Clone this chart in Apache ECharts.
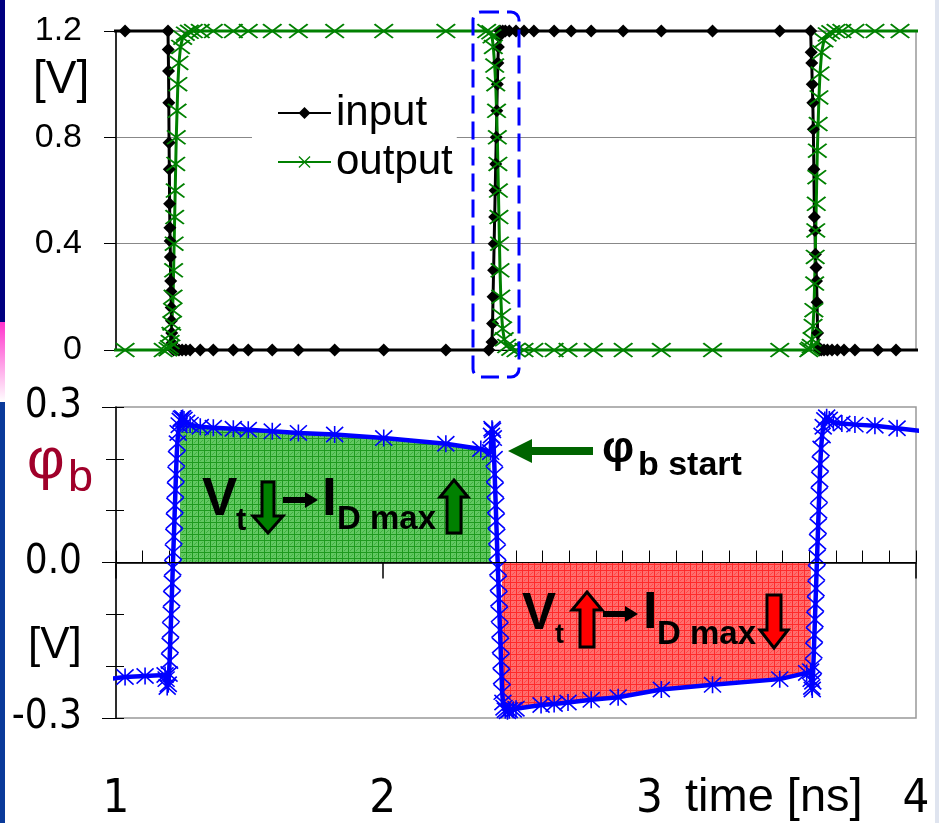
<!DOCTYPE html>
<html>
<head>
<meta charset="utf-8">
<script src="https://cdn.jsdelivr.net/npm/echarts@6/dist/echarts.min.js"></script>
<style>
  html, body { margin: 0; padding: 0; background: #fff; }
  #chart { width: 939px; height: 823px; }
</style>
</head>
<body>
<div id="chart"></div>
<script>
  // input voltage (black diamonds), time in ns
  const inT = [
    0.959, 1.034, 1.195,
    1.196, 1.197, 1.198, 1.199, 1.200, 1.201, 1.202, 1.203, 1.204, 1.205, 1.206, 1.207, 1.208, 1.209, 1.210, 1.212, 1.216,
    1.225, 1.236, 1.248, 1.262, 1.278, 1.316, 1.365, 1.440, 1.496, 1.586, 1.684, 1.820, 2.004, 2.237, 2.398,
    2.410, 2.412, 2.414, 2.416, 2.418, 2.420, 2.422, 2.424, 2.426, 2.428, 2.430, 2.432, 2.434, 2.437, 2.440,
    2.450, 2.460, 2.475, 2.500, 2.530, 2.567, 2.643, 2.707, 2.782, 2.902, 3.045, 3.237, 3.489, 3.605,
    3.607, 3.609, 3.611, 3.613, 3.615, 3.617, 3.619, 3.621, 3.623, 3.625, 3.627, 3.629, 3.631, 3.634, 3.638,
    3.645, 3.655, 3.668, 3.685, 3.705, 3.730, 3.771, 3.857, 3.925, 4.053
  ];
  const inV = [
    1.2, 1.2, 1.2,
    1.13, 1.05, 0.93, 0.78, 0.68, 0.55, 0.46, 0.41, 0.35, 0.26, 0.22, 0.16, 0.11, 0.064, 0.026, 0.005, 0,
    0, 0, 0, 0, 0, 0, 0, 0, 0, 0, 0, 0, 0, 0, 0,
    0.03, 0.10, 0.20, 0.30, 0.40, 0.50, 0.60, 0.70, 0.80, 0.90, 1.00, 1.08, 1.14, 1.18, 1.2,
    1.2, 1.2, 1.2, 1.2, 1.2, 1.2, 1.2, 1.2, 1.2, 1.2, 1.2, 1.2, 1.2, 1.2,
    1.12, 1.08, 1.00, 0.93, 0.83, 0.68, 0.50, 0.45, 0.36, 0.31, 0.26, 0.18, 0.064, 0.01, 0,
    0, 0, 0, 0, 0, 0, 0, 0, 0, 0
  ];

  // output voltage (green crosses)
  const outT = [
    0.959, 1.034, 1.177,
    1.195, 1.200, 1.203, 1.206, 1.209, 1.212, 1.214, 1.216, 1.218, 1.220, 1.222, 1.224, 1.226, 1.229, 1.232, 1.236, 1.242, 1.250, 1.260, 1.275, 1.290,
    1.316, 1.365, 1.440, 1.496, 1.586, 1.684, 1.820, 2.004, 2.237, 2.390,
    2.405, 2.410, 2.415, 2.420, 2.424, 2.427, 2.430, 2.432, 2.434, 2.436, 2.438, 2.440, 2.443, 2.446, 2.450, 2.456, 2.465, 2.480, 2.500,
    2.530, 2.567, 2.643, 2.695, 2.790, 2.902, 3.045, 3.237, 3.489, 3.598,
    3.603, 3.607, 3.610, 3.614, 3.617, 3.620, 3.622, 3.624, 3.626, 3.628, 3.630, 3.633, 3.636, 3.640, 3.646, 3.655, 3.667, 3.680, 3.700,
    3.722, 3.771, 3.846, 3.940, 4.053
  ];
  const outV = [
    0, 0, 0,
    0.003, 0.01, 0.03, 0.06, 0.10, 0.15, 0.20, 0.30, 0.40, 0.50, 0.60, 0.70, 0.80, 0.90, 1.00, 1.08, 1.14, 1.175, 1.19, 1.197, 1.2,
    1.2, 1.2, 1.2, 1.2, 1.2, 1.2, 1.2, 1.2, 1.2, 1.2,
    1.195, 1.18, 1.14, 1.07, 1.00, 0.90, 0.80, 0.70, 0.60, 0.50, 0.40, 0.30, 0.20, 0.13, 0.08, 0.04, 0.015, 0.005, 0,
    0, 0, 0, 0, 0, 0, 0, 0, 0, 0,
    0.005, 0.015, 0.04, 0.09, 0.15, 0.25, 0.35, 0.45, 0.55, 0.65, 0.75, 0.85, 0.95, 1.04, 1.12, 1.165, 1.187, 1.195, 1.2,
    1.2, 1.2, 1.2, 1.2, 1.2
  ];

  // body potential phi_b (blue asterisks)
  const phiT = [
    0.970, 1.034, 1.109, 1.184,
    1.188, 1.192, 1.196, 1.199, 1.201, 1.203, 1.205, 1.207, 1.209, 1.211, 1.213, 1.215, 1.217, 1.219, 1.221, 1.223, 1.225, 1.227, 1.230, 1.233, 1.237, 1.241, 1.245, 1.250, 1.255, 1.265, 1.278,
    1.316, 1.365, 1.440, 1.496, 1.586, 1.684, 1.820, 2.004, 2.237, 2.368, 2.405,
    2.408, 2.410, 2.412, 2.415, 2.418, 2.420, 2.422, 2.424, 2.426, 2.428, 2.430, 2.432, 2.434, 2.436, 2.438, 2.440, 2.442, 2.444, 2.446, 2.448, 2.451, 2.455, 2.460, 2.468, 2.475, 2.490, 2.500,
    2.594, 2.643, 2.695, 2.782, 2.883, 3.045, 3.237, 3.489, 3.590, 3.605,
    3.607, 3.609, 3.611, 3.613, 3.615, 3.617, 3.619, 3.621, 3.623, 3.625, 3.627, 3.629, 3.631, 3.633, 3.635, 3.637, 3.639, 3.641, 3.644, 3.648, 3.652, 3.658, 3.665, 3.675, 3.690,
    3.722, 3.771, 3.846, 3.929, 4.034
  ];
  const phiV = [
    -0.225, -0.221, -0.219, -0.217,
    -0.225, -0.24, -0.235, -0.215, -0.19, -0.16, -0.13, -0.10, -0.07, -0.04, -0.01, 0.02, 0.05, 0.08, 0.11, 0.14, 0.17, 0.20, 0.23, 0.25, 0.265, 0.274, 0.278, 0.279, 0.276, 0.27, 0.266,
    0.262, 0.260, 0.258, 0.256, 0.253, 0.250, 0.247, 0.240, 0.229, 0.219, 0.213,
    0.245, 0.258, 0.255, 0.24, 0.20, 0.17, 0.14, 0.11, 0.08, 0.05, 0.02, -0.01, -0.04, -0.07, -0.10, -0.13, -0.16, -0.19, -0.22, -0.25, -0.27, -0.28, -0.285, -0.287, -0.285, -0.284, -0.282,
    -0.275, -0.273, -0.270, -0.265, -0.260, -0.245, -0.236, -0.225, -0.213, -0.210,
    -0.225, -0.24, -0.245, -0.23, -0.20, -0.17, -0.14, -0.11, -0.08, -0.05, -0.02, 0.01, 0.04, 0.07, 0.10, 0.13, 0.16, 0.19, 0.22, 0.245, 0.262, 0.275, 0.28, 0.276, 0.27,
    0.268, 0.266, 0.264, 0.259, 0.253
  ];

  // shaded windows (ns)
  const greenWin = [1.241, 2.405];
  const redWin = [2.445, 3.605];

  const SANS = '"Liberation Sans", Arial, sans-serif';
  const NARROW = '"Liberation Sans Narrow", "Arial Narrow", "DejaVu Sans Condensed", sans-serif';

  function pts(ts, vs) {
    // first and last samples lie outside the axes and carry no marker
    return ts.map(function (t, i) {
      const item = { value: [t, vs[i]] };
      if (i === 0 || i === ts.length - 1) item.symbol = 'none';
      return item;
    });
  }
  function win(ts, vs, w) {
    const out = [];
    ts.forEach(function (t, i) { if (t >= w[0] && t <= w[1]) out.push([t, vs[i]]); });
    return out;
  }
  function hatch(base, line, dot) {
    const c = document.createElement('canvas');
    c.width = 6; c.height = 6;
    const g = c.getContext('2d');
    g.fillStyle = base; g.fillRect(0, 0, 6, 6);
    g.fillStyle = line; g.fillRect(0, 0, 6, 1); g.fillRect(0, 0, 1, 6);
    g.fillStyle = dot; g.fillRect(3, 3, 1, 1); g.fillRect(2, 4, 1, 1); g.fillRect(4, 2, 1, 1);
    return c;
  }

  const crossSym = 'path://M0,1.5L1.5,0L10,8.5L18.5,0L20,1.5L11.5,10L20,18.5L18.5,20L10,11.5L1.5,20L0,18.5L8.5,10Z';
  const starSym = 'path://M10,0L10,20M1,1L19,19M19,1L1,19';

  let chart = echarts.init(document.getElementById('chart'));

  function txt(x, y, s, size, opts) {
    opts = opts || {};
    return {
      type: 'text', x: x, y: y, z: 100,
      style: {
        text: s,
        font: (opts.bold ? 'bold ' : '') + size + 'px ' + (opts.family || SANS),
        fill: opts.color || '#000',
        align: 'left', verticalAlign: 'middle',
        textAlign: 'left', textVerticalAlign: 'middle'
      }
    };
  }
  function poly(points, fill, stroke, lw) {
    return {
      type: 'polygon', z: 100,
      shape: { points: points },
      style: { fill: fill, stroke: stroke || null, lineWidth: lw || 0, lineJoin: 'miter' }
    };
  }

  chart.setOption({
    animation: false,
    backgroundColor: '#fff',
    grid: [
      { left: 116, top: 31, width: 800, height: 319, show: true, borderColor: '#999', borderWidth: 1.5 },
      { left: 116, top: 407, width: 800, height: 315, show: true, borderColor: '#999', borderWidth: 1.5 }
    ],
    legend: {
      orient: 'vertical',
      left: 252, top: 88,
      itemWidth: 53, itemHeight: 15, itemGap: 7,
      padding: [4, 4, 4, 25],
      backgroundColor: '#fff',
      data: ['input', 'output'],
      textStyle: { fontSize: 42, fontFamily: SANS, color: '#000' }
    },
    xAxis: [
      {
        type: 'value', gridIndex: 0, min: 1, max: 4,
        axisLine: { lineStyle: { color: '#000', width: 1 } },
        axisTick: { show: false }, axisLabel: { show: false }, splitLine: { show: false }
      },
      {
        type: 'value', gridIndex: 1, position: 'bottom', min: 1, max: 4, interval: 1,
        axisLine: { lineStyle: { color: '#333', width: 2 } },
        axisTick: { length: 16, lineStyle: { color: '#000', width: 1.5 } },
        axisLabel: { fontSize: 47, fontFamily: NARROW, color: '#000', margin: 58, hideOverlap: false },
        splitLine: { show: false }
      },
      {
        type: 'value', gridIndex: 1, position: 'bottom', min: 1, max: 4, interval: 0.1,
        axisLine: { show: false },
        axisTick: { inside: true, length: 12, lineStyle: { color: '#000', width: 1 } },
        axisLabel: { show: false }, splitLine: { show: false }
      }
    ],
    yAxis: [
      {
        type: 'value', gridIndex: 0, min: 0, max: 1.2, interval: 0.4,
        axisLine: { show: true, lineStyle: { color: '#000', width: 1.5 } },
        axisTick: { show: true, length: 12, lineStyle: { color: '#000' } },
        axisLabel: {
          fontSize: 34, fontFamily: SANS, color: '#000', margin: 34,
          formatter: function (v) { return Math.abs(v) < 1e-9 ? '0' : v.toFixed(1); }
        },
        splitLine: { lineStyle: { color: '#888', width: 1 } }
      },
      {
        type: 'value', gridIndex: 1, position: 'left', min: -0.3, max: 0.3, interval: 0.3,
        axisLine: { show: true, lineStyle: { color: '#000', width: 1.5 } },
        axisTick: { show: true, length: 14, lineStyle: { color: '#000' } },
        axisLabel: {
          fontSize: 40, fontFamily: NARROW, color: '#000', margin: 34,
          formatter: function (v) { return Math.abs(v) < 1e-9 ? '0.0' : v.toFixed(1); }
        },
        splitLine: { show: false }
      },
      {
        type: 'value', gridIndex: 1, position: 'left', min: -0.3, max: 0.3, interval: 0.1,
        axisLine: { show: false },
        axisTick: { show: true, length: 10, lineStyle: { color: '#000' } },
        axisLabel: { show: false }, splitLine: { show: false }
      },
      {
        type: 'value', gridIndex: 1, position: 'left', min: -0.3, max: 0.3, interval: 0.1,
        axisLine: { show: false },
        axisTick: { show: true, inside: true, length: 8, lineStyle: { color: '#000' } },
        axisLabel: { show: false }, splitLine: { show: false }
      }
    ],
    series: [
      {
        name: 'input', type: 'line', xAxisIndex: 0, yAxisIndex: 0, clip: false,
        data: pts(inT, inV),
        symbol: 'diamond', symbolSize: 13,
        itemStyle: { color: '#000' },
        lineStyle: { color: '#000', width: 3 }
      },
      {
        name: 'output', type: 'line', xAxisIndex: 0, yAxisIndex: 0, clip: false,
        data: pts(outT, outV),
        symbol: crossSym, symbolSize: [20, 15],
        itemStyle: { color: '#008000' },
        lineStyle: { color: '#008000', width: 3 }
      },
      {
        name: 'gain', type: 'line', xAxisIndex: 1, yAxisIndex: 1, z: 1,
        data: win(phiT, phiV, greenWin),
        showSymbol: false, lineStyle: { width: 0 },
        areaStyle: { origin: 0, opacity: 1, color: { image: hatch('#62c862', '#1e9a1e', '#3fae3f'), repeat: 'repeat' } }
      },
      {
        name: 'loss', type: 'line', xAxisIndex: 1, yAxisIndex: 1, z: 1,
        data: win(phiT, phiV, redWin),
        showSymbol: false, lineStyle: { width: 0 },
        areaStyle: { origin: 0, opacity: 1, color: { image: hatch('#ff6e6e', '#ff2a2a', '#ff4848'), repeat: 'repeat' } }
      },
      {
        name: 'phi', type: 'line', xAxisIndex: 1, yAxisIndex: 1, clip: false, z: 3,
        data: pts(phiT, phiV),
        symbol: starSym, symbolSize: 17,
        itemStyle: { color: 'rgba(0,0,0,0)', borderColor: '#0000ff', borderWidth: 1.6 },
        lineStyle: { color: '#0000ff', width: 4.5 },
        markLine: {
          silent: true, symbol: ['none', 'none'], label: { show: false },
          lineStyle: { color: '#000', width: 1, type: 'solid' },
          data: [{ yAxis: 0 }]
        }
      }
    ],
    graphic: [
      // slide edge strips
      { type: 'rect', shape: { x: 0, y: 0, width: 5, height: 322 }, style: { fill: '#000080' } },
      { type: 'rect', shape: { x: 0, y: 322, width: 5, height: 80 },
        style: { fill: new echarts.graphic.LinearGradient(0, 0, 0, 1, [{ offset: 0, color: '#ff33cc' }, { offset: 1, color: '#ffffff' }]) } },
      { type: 'rect', shape: { x: 0, y: 402, width: 5, height: 421 }, style: { fill: '#0a3a9a' } },
      { type: 'rect', shape: { x: 935, y: 0, width: 4, height: 823 }, style: { fill: '#dfe4ef' } },

      // highlight box around the rising edge
      { type: 'rect', z: 100, shape: { x: 473, y: 12, width: 46, height: 365, r: 8 },
        style: { fill: 'none', stroke: '#0000ff', lineWidth: 3, lineDash: [18, 8] } },

      // axis titles
      txt(33, 80, '[V]', 46),
      txt(27, 462, 'φ', 58, { color: '#a0002a' }),
      txt(68, 479, 'b', 45, { color: '#a0002a' }),
      txt(28, 646, '[V]', 44),
      txt(685, 798, 'time [ns]', 47),

      // green window annotation
      txt(202, 500, 'V', 53, { bold: true }),
      txt(236, 521, 't', 31, { bold: true }),
      poly([[262, 482], [274, 482], [274, 516], [283, 516], [268, 533], [253, 516], [262, 516]], '#008000', '#000', 3),
      poly([[283, 497], [305, 497], [305, 492], [318, 500], [305, 508], [305, 503], [283, 503]], '#000'),
      txt(322, 500, 'I', 53, { bold: true }),
      txt(337, 520, 'D max', 33, { bold: true }),
      poly([[454, 480], [468, 497], [461, 497], [461, 533], [447, 533], [447, 497], [440, 497]], '#008000', '#000', 3),

      // red window annotation
      txt(522, 615, 'V', 51, { bold: true }),
      txt(555, 636, 't', 27, { bold: true }),
      poly([[587, 592], [602, 610], [594, 610], [594, 647], [580, 647], [580, 610], [572, 610]], '#ff0000', '#000', 3),
      poly([[603, 611], [625, 611], [625, 606], [638, 614], [625, 622], [625, 617], [603, 617]], '#000'),
      txt(643, 614, 'I', 52, { bold: true }),
      txt(657, 635, 'D max', 33, { bold: true }),
      poly([[767, 595], [781, 595], [781, 630], [788, 630], [774, 648], [760, 630], [767, 630]], '#ff0000', '#000', 3),

      // phi_b start marker
      poly([[508, 451], [532, 439], [532, 447], [593, 447], [593, 455], [532, 455], [532, 463]], '#006400'),
      txt(602, 450, 'φ', 45, { bold: true }),
      txt(638, 466, 'b start', 34, { bold: true })
    ]
  });
</script>
</body>
</html>
